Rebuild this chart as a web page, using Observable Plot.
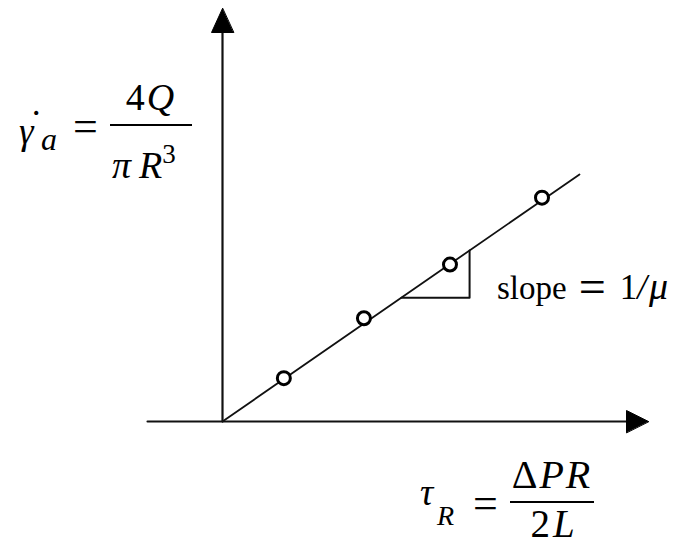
<!DOCTYPE html>
<html>
<head>
<meta charset="utf-8">
<script src="https://cdn.jsdelivr.net/npm/d3@7"></script>
<script src="https://cdn.jsdelivr.net/npm/@observablehq/plot@0.6"></script>
<style>
  body { margin: 0; background: #fff; }
  .formula text, .formula tspan { font-family: "Liberation Serif", Tinos, "Times New Roman", serif; }
</style>
</head>
<body>
<div id="chart"></div>
<script>
// Capillary viscometer data: wall shear stress vs apparent shear rate
const shearStress = [1.44, 3.32, 5.34, 7.50];   // τ_R
const shearRate   = [1.05, 2.50, 3.80, 5.42];   // γ̇_a
const inverseViscosity = 0.714;                  // slope = 1/μ
const fitEnd = 8.38;                             // end of the fitted line (τ_R)
const slopeRun = [4.2, 5.8];                     // run of the slope triangle
const axisXExtent = [-1.76, 10];
const axisYExtent = [0, 10];

const W = 675, H = 545;
const xRange = [222, 648], yRange = [421, 8];
const ux = (axisXExtent[1] - 0) / (xRange[1] - xRange[0]); // data units per pixel
const uy = (axisYExtent[1] - 0) / (yRange[0] - yRange[1]);

const points = shearStress.map((x, i) => ({x, y: shearRate[i]}));
const fitLine = [0, fitEnd].map(x => ({x, y: inverseViscosity * x}));
const [r0, r1] = slopeRun;
const triangle = [
  {x: r0, y: inverseViscosity * r0},
  {x: r1, y: inverseViscosity * r0},
  {x: r1, y: inverseViscosity * r1}
];

const xAxisLine = [{x: axisXExtent[0], y: 0}, {x: axisXExtent[1] - 21 * ux, y: 0}];
const yAxisLine = [{x: 0, y: 0}, {x: 0, y: axisYExtent[1] - 22 * uy}];
const xHead = [
  {x: axisXExtent[1], y: 0},
  {x: axisXExtent[1] - 22 * ux, y: 11 * uy},
  {x: axisXExtent[1] - 22 * ux, y: -11 * uy}
];
const yHead = [
  {x: 0, y: axisYExtent[1]},
  {x: -11 * ux, y: axisYExtent[1] - 24 * uy},
  {x: 11 * ux, y: axisYExtent[1] - 24 * uy}
];

const plot = Plot.plot({
  width: W,
  height: H,
  margin: 0,
  x: {domain: [0, axisXExtent[1]], range: xRange, axis: null},
  y: {domain: [0, axisYExtent[1]], range: yRange, axis: null},
  marks: [
    Plot.line(xAxisLine, {x: "x", y: "y", stroke: "#111", strokeWidth: 2.2}),
    Plot.line(yAxisLine, {x: "x", y: "y", stroke: "#111", strokeWidth: 2.2}),
    Plot.line(xHead, {x: "x", y: "y", fill: "#000", stroke: "#000", strokeWidth: 1, curve: "linear-closed"}),
    Plot.line(yHead, {x: "x", y: "y", fill: "#000", stroke: "#000", strokeWidth: 1, curve: "linear-closed"}),
    Plot.line(fitLine, {x: "x", y: "y", stroke: "#111", strokeWidth: 1.8}),
    Plot.line(triangle, {x: "x", y: "y", stroke: "#111", strokeWidth: 2}),
    Plot.dot(points, {x: "x", y: "y", r: 6.5, fill: "#fff", stroke: "#000", strokeWidth: 3})
  ]
});
document.getElementById("chart").appendChild(plot);

// Formula labels
const g = d3.select(plot).append("g")
  .attr("class", "formula")
  .attr("fill", "#000");

function label(x, y, size, parts, anchor = "start", spacing = 0) {
  const t = g.append("text")
    .attr("x", x).attr("y", y)
    .style("font-size", size + "px")
    .style("letter-spacing", spacing + "px")
    .attr("text-anchor", anchor);
  for (const p of parts) {
    const s = t.append("tspan").text(p.t);
    if (p.i) s.style("font-style", "italic");
    if (p.dx != null) s.attr("dx", p.dx);
    if (p.dy != null) s.attr("dy", p.dy);
    if (p.size) s.style("font-size", p.size + "px");
  }
  return t;
}

// y label: γ̇_a = 4Q / (πR³)
label(19, 144, 37, [
  {t: "γ", i: true},
  {t: "˙", dx: -4, dy: -7, size: 40},
  {t: "a", i: true, dx: -2, dy: 13, size: 32}
]);
label(73, 141, 44, [{t: "="}]);
g.append("line").attr("x1", 110).attr("x2", 192).attr("y1", 125).attr("y2", 125)
  .attr("stroke", "#000").attr("stroke-width", 2);
label(151, 110, 38, [{t: "4"}, {t: "Q", i: true}], "middle", 2);
label(112, 178, 38, [{t: "π", i: true}, {t: "R", i: true, dx: 8}, {t: "3", dy: -15, size: 27}]);

// x label: τ_R = ΔP R / 2L
label(420, 505, 37, [{t: "τ", i: true}]);
label(437, 525, 28, [{t: "R", i: true}]);
label(473, 518, 44, [{t: "="}]);
g.append("line").attr("x1", 510).attr("x2", 594).attr("y1", 502).attr("y2", 502)
  .attr("stroke", "#000").attr("stroke-width", 2);
label(552, 488, 40, [{t: "Δ"}, {t: "PR", i: true}], "middle", 2);
label(554, 537, 39, [{t: "2"}, {t: "L", i: true}], "middle", 3);

// slope annotation
label(497, 299, 33, [
  {t: "slope"},
  {t: "=", dx: 12, dy: 4, size: 48},
  {t: "1", dx: 14, dy: -4, size: 35},
  {t: "/", i: true, size: 35},
  {t: "μ", i: true, dx: 2, size: 38}
]);
</script>
</body>
</html>
